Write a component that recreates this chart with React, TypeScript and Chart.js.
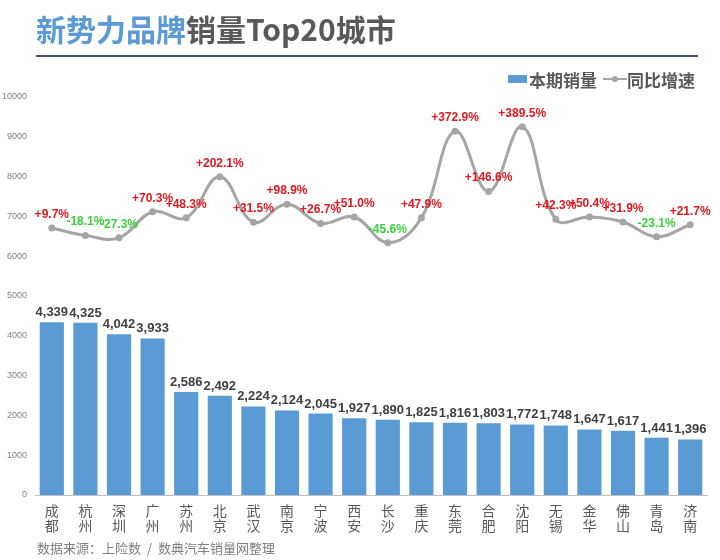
import React, { useEffect, useRef } from 'react';
import { Chart, registerables } from 'chart.js';

Chart.register(...registerables);

const cities = ['成都', '杭州', '深圳', '广州', '苏州', '北京', '武汉', '南京', '宁波', '西安', '长沙', '重庆', '东莞', '合肥', '沈阳', '无锡', '金华', '佛山', '青岛', '济南'];
const sales = [4339, 4325, 4042, 3933, 2586, 2492, 2224, 2124, 2045, 1927, 1890, 1825, 1816, 1803, 1772, 1748, 1647, 1617, 1441, 1396];
const growth = [9.7, -18.1, -27.3, 70.3, 48.3, 202.1, 31.5, 98.9, 26.7, 51.0, -45.6, 47.9, 372.9, 146.6, 389.5, 42.3, 50.4, 31.9, -23.1, 21.7];
const yMin = 0;
const yMax = 10000;
const yStep = 1000;
const growthAxisMin = -992;
const growthAxisMax = 501;

const BAR_COLOR = '#5b9bd5';
const LINE_COLOR = '#a5a5a5';
const CJK = '"Noto Sans CJK SC", "Noto Sans", sans-serif';
const LATIN = '"Liberation Sans", Arial, sans-serif';

const labelPlugin = {
  id: 'valueLabels',
  afterDatasetsDraw(chart: any) {
    const ctx = chart.ctx;
    ctx.save();
    ctx.textAlign = 'center';
    ctx.textBaseline = 'alphabetic';
    const barMeta = chart.getDatasetMeta(0);
    ctx.font = 'bold 13px ' + LATIN;
    ctx.fillStyle = '#404040';
    barMeta.data.forEach((el: any, i: number) => {
      ctx.fillText(sales[i].toLocaleString('en-US'), el.x, el.y - 6);
    });
    const lineMeta = chart.getDatasetMeta(1);
    ctx.font = 'bold 12px ' + LATIN;
    lineMeta.data.forEach((el: any, i: number) => {
      const g = growth[i];
      ctx.fillStyle = g >= 0 ? '#e0191e' : '#3ad13a';
      ctx.fillText((g >= 0 ? '+' : '') + g.toFixed(1) + '%', el.x, el.y - 10);
    });
    ctx.restore();
  },
};

export default function App() {
  const canvasRef = useRef<HTMLCanvasElement | null>(null);

  useEffect(() => {
    if (!canvasRef.current) return;
    const chart = new Chart(canvasRef.current, {
      type: 'bar',
      data: {
        labels: cities.map((c) => c.split('')),
        datasets: [
          {
            type: 'bar',
            label: '本期销量',
            data: sales,
            backgroundColor: BAR_COLOR,
            borderWidth: 0,
            barPercentage: 0.72,
            categoryPercentage: 1,
            yAxisID: 'y',
            order: 2,
          },
          {
            type: 'line',
            label: '同比增速',
            data: growth,
            borderColor: LINE_COLOR,
            backgroundColor: LINE_COLOR,
            borderWidth: 3,
            tension: 0.4,
            pointRadius: 3.5,
            pointBorderWidth: 0,
            pointBackgroundColor: LINE_COLOR,
            yAxisID: 'y1',
            order: 1,
          } as any,
        ],
      },
      options: {
        animation: false,
        responsive: true,
        maintainAspectRatio: false,
        layout: { padding: { left: 0, right: 13, top: 97, bottom: 20 } },
        plugins: {
          legend: { display: false },
          tooltip: { enabled: false },
          title: { display: false },
        },
        scales: {
          x: {
            grid: { display: false, drawTicks: false },
            border: { display: true, color: '#bfbfbf', width: 1 },
            ticks: {
              autoSkip: false,
              maxRotation: 0,
              minRotation: 0,
              padding: 8,
              color: '#595959',
              font: { family: CJK, size: 14, lineHeight: 1.1 },
            },
            afterFit(scale: any) {
              scale.height = 45;
            },
          },
          y: {
            min: yMin,
            max: yMax,
            grid: { display: false, drawTicks: false },
            border: { display: false },
            ticks: {
              stepSize: yStep,
              padding: 8,
              color: '#808080',
              font: { family: LATIN, size: 9 },
              callback: (v: any) => String(v),
            },
            afterFit(scale: any) {
              scale.width = 35;
            },
          },
          y1: {
            display: false,
            min: growthAxisMin,
            max: growthAxisMax,
          },
        },
      },
      plugins: [labelPlugin],
    } as any);
    return () => chart.destroy();
  }, []);

  return (
    <div style={{ position: 'fixed', left: 0, top: 0, width: 720, height: 560, background: '#ffffff', overflow: 'hidden' }}>
      <canvas ref={canvasRef} style={{ position: 'absolute', left: 0, top: 0, width: 720, height: 560 }} />
      <div
        style={{
          position: 'absolute',
          left: 36,
          top: 11,
          fontFamily: CJK,
          fontWeight: 700,
          fontSize: 30,
          lineHeight: '34px',
          whiteSpace: 'nowrap',
          color: '#595959',
        }}
      >
        <span style={{ color: BAR_COLOR }}>新势力品牌</span>销量Top20城市
      </div>
      <div style={{ position: 'absolute', left: 36, top: 55, width: 662, height: 2, background: '#44546a' }} />
      <div
        style={{
          position: 'absolute',
          left: 508,
          top: 68,
          height: 22,
          display: 'flex',
          alignItems: 'center',
          fontFamily: CJK,
          fontWeight: 700,
          fontSize: 17,
          color: '#595959',
          whiteSpace: 'nowrap',
        }}
      >
        <span style={{ display: 'inline-block', width: 19, height: 8, background: BAR_COLOR, marginRight: 2 }} />
        <span>本期销量</span>
        <span style={{ position: 'relative', display: 'inline-block', width: 24, height: 22, marginLeft: 6 }}>
          <span style={{ position: 'absolute', left: 0, top: 10, width: 24, height: 2, background: LINE_COLOR }} />
          <span style={{ position: 'absolute', left: 9, top: 8, width: 6, height: 6, borderRadius: 3, background: LINE_COLOR }} />
        </span>
        <span>同比增速</span>
      </div>
      <div
        style={{
          position: 'absolute',
          left: 37,
          top: 539,
          fontFamily: CJK,
          fontSize: 13,
          lineHeight: '18px',
          color: '#7f7f7f',
          whiteSpace: 'pre',
          wordSpacing: 3,
        }}
      >
        {'数据来源：上险数 / 数典汽车销量网整理'}
      </div>
    </div>
  );
}
